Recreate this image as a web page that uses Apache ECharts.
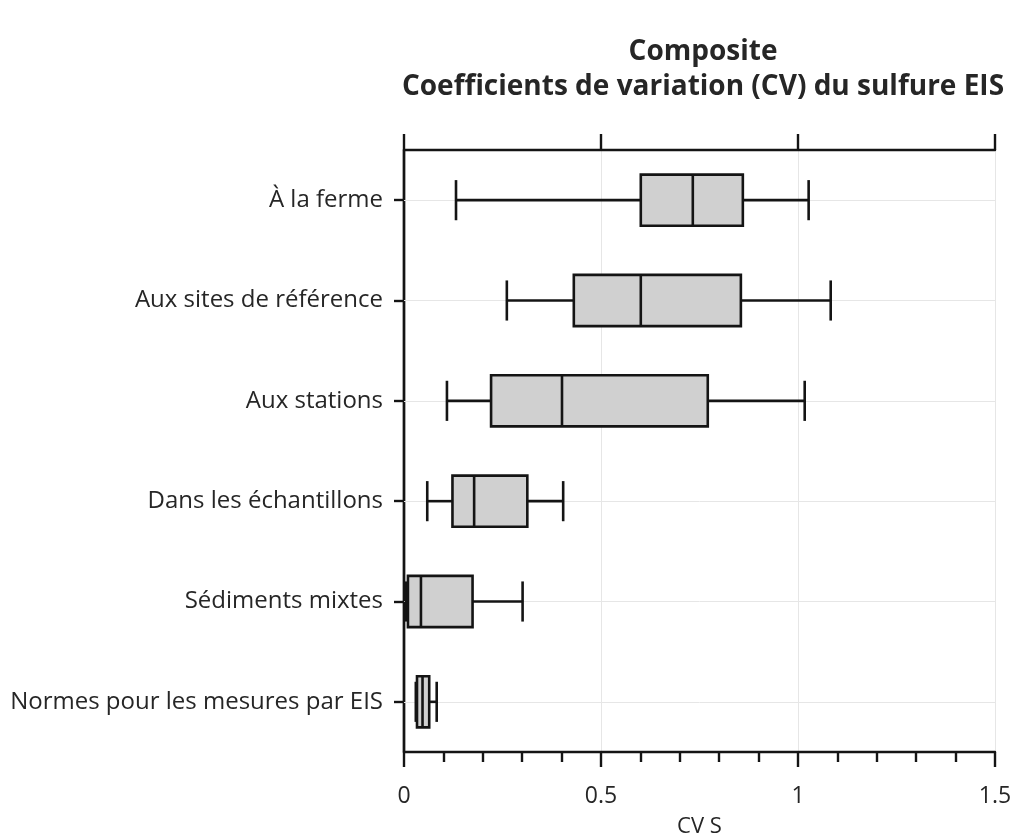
<!DOCTYPE html>
<html>
<head>
<meta charset="utf-8">
<script src="https://cdn.jsdelivr.net/npm/echarts@6/dist/echarts.min.js"></script>
<style>
html,body{margin:0;padding:0;background:#fff;}
#chart{width:1014px;height:840px;}
</style>
</head>
<body>
<div id="chart"></div>
<script>
var categories = ['À la ferme', 'Aux sites de référence', 'Aux stations', 'Dans les échantillons', 'Sédiments mixtes', 'Normes pour les mesures par EIS'];
var whiskerLow = [0.132, 0.261, 0.109, 0.059, 0.005, 0.030];
var q1 = [0.601, 0.431, 0.221, 0.123, 0.010, 0.033];
var median = [0.733, 0.601, 0.401, 0.178, 0.043, 0.047];
var q3 = [0.860, 0.855, 0.771, 0.313, 0.174, 0.064];
var whiskerHigh = [1.027, 1.083, 1.017, 0.404, 0.301, 0.083];
var xTicks = [0, 0.5, 1, 1.5];

var boxData = categories.map(function (c, i) {
  return [i, whiskerLow[i], q1[i], median[i], q3[i], whiskerHigh[i]];
});

var FONT = 'Open Sans';
var TXT = '#262626';
var LINE = '#141414';

var chart = echarts.init(document.getElementById('chart'));
chart.setOption({
  animation: false,
  backgroundColor: '#fff',
  title: {
    text: 'Composite\nCoefficients de variation (CV) du sulfure EIS',
    left: 698,
    textAlign: 'center',
    top: 30,
    textStyle: { fontFamily: FONT, fontWeight: 'bold', fontSize: 28, color: TXT, lineHeight: 35 }
  },
  grid: { left: 404, top: 150, width: 591, height: 602, containLabel: false, outerBoundsMode: 'none' },
  xAxis: [{
    type: 'value', min: 0, max: 1.5, interval: 0.5, position: 'bottom',
    name: 'CV S', nameLocation: 'middle', nameGap: 64,
    nameTextStyle: { fontFamily: FONT, fontSize: 22, color: TXT },
    axisLine: { show: true, lineStyle: { color: LINE, width: 2.4 } },
    axisTick: { show: true, inside: false, length: 15, lineStyle: { color: LINE, width: 2.4 } },
    minorTick: { show: true, splitNumber: 5, length: 10, lineStyle: { color: LINE, width: 2.4 } },
    axisLabel: { fontFamily: FONT, fontSize: 23, color: TXT, margin: 33,
      formatter: function (v) { return xTicks.indexOf(v) >= 0 ? String(v) : ''; } },
    splitLine: { show: true, lineStyle: { color: '#e6e6e6', width: 1 } }
  }, {
    type: 'value', min: 0, max: 1.5, interval: 0.5, position: 'top',
    axisLine: { show: true, lineStyle: { color: LINE, width: 2.4 } },
    axisTick: { show: true, inside: false, length: 16, lineStyle: { color: LINE, width: 2.4 } },
    axisLabel: { show: false },
    splitLine: { show: false }
  }],
  yAxis: [{
    type: 'category', data: categories, inverse: true, position: 'left',
    axisLine: { show: true, lineStyle: { color: LINE, width: 2.4 } },
    axisTick: { show: true, alignWithLabel: true, length: 10, lineStyle: { color: LINE, width: 2.4 } },
    axisLabel: { fontFamily: FONT, fontSize: 24, color: TXT, margin: 21 },
    splitLine: { show: false }
  }, {
    type: 'category', data: categories, inverse: true, position: 'right',
    axisLine: { show: true, lineStyle: { color: LINE, width: 2.4 } },
    axisTick: { show: false }, axisLabel: { show: false }, splitLine: { show: false }
  }],
  series: [{
    type: 'line', data: [], silent: true, z: 1,
    markLine: {
      silent: true, symbol: 'none', label: { show: false },
      lineStyle: { color: '#e6e6e6', width: 1, type: 'solid' },
      data: categories.map(function (c) { return { yAxis: c }; })
    }
  }, {
    type: 'custom', z: 5,
    data: boxData,
    encode: { y: 0, x: [1, 2, 3, 4, 5] },
    renderItem: function (params, api) {
      var ci = api.value(0);
      var pLo = api.coord([api.value(1), ci]);
      var pQ1 = api.coord([api.value(2), ci]);
      var pMed = api.coord([api.value(3), ci]);
      var pQ3 = api.coord([api.value(4), ci]);
      var pHi = api.coord([api.value(5), ci]);
      var band = api.size([0, 1])[1];
      var bh = band * 0.51;
      var ch = band * 0.40;
      var y = pMed[1];
      var st = { stroke: LINE, lineWidth: 2.6, fill: null };
      return {
        type: 'group',
        children: [
          { type: 'line', shape: { x1: pLo[0], y1: y, x2: pQ1[0], y2: y }, style: st },
          { type: 'line', shape: { x1: pQ3[0], y1: y, x2: pHi[0], y2: y }, style: st },
          { type: 'line', shape: { x1: pLo[0], y1: y - ch / 2, x2: pLo[0], y2: y + ch / 2 }, style: st },
          { type: 'line', shape: { x1: pHi[0], y1: y - ch / 2, x2: pHi[0], y2: y + ch / 2 }, style: st },
          { type: 'rect', shape: { x: pQ1[0], y: y - bh / 2, width: pQ3[0] - pQ1[0], height: bh },
            style: { fill: '#d0d0d0', stroke: LINE, lineWidth: 2.6 } },
          { type: 'line', shape: { x1: pMed[0], y1: y - bh / 2, x2: pMed[0], y2: y + bh / 2 }, style: st }
        ]
      };
    }
  }]
});
</script>
</body>
</html>
